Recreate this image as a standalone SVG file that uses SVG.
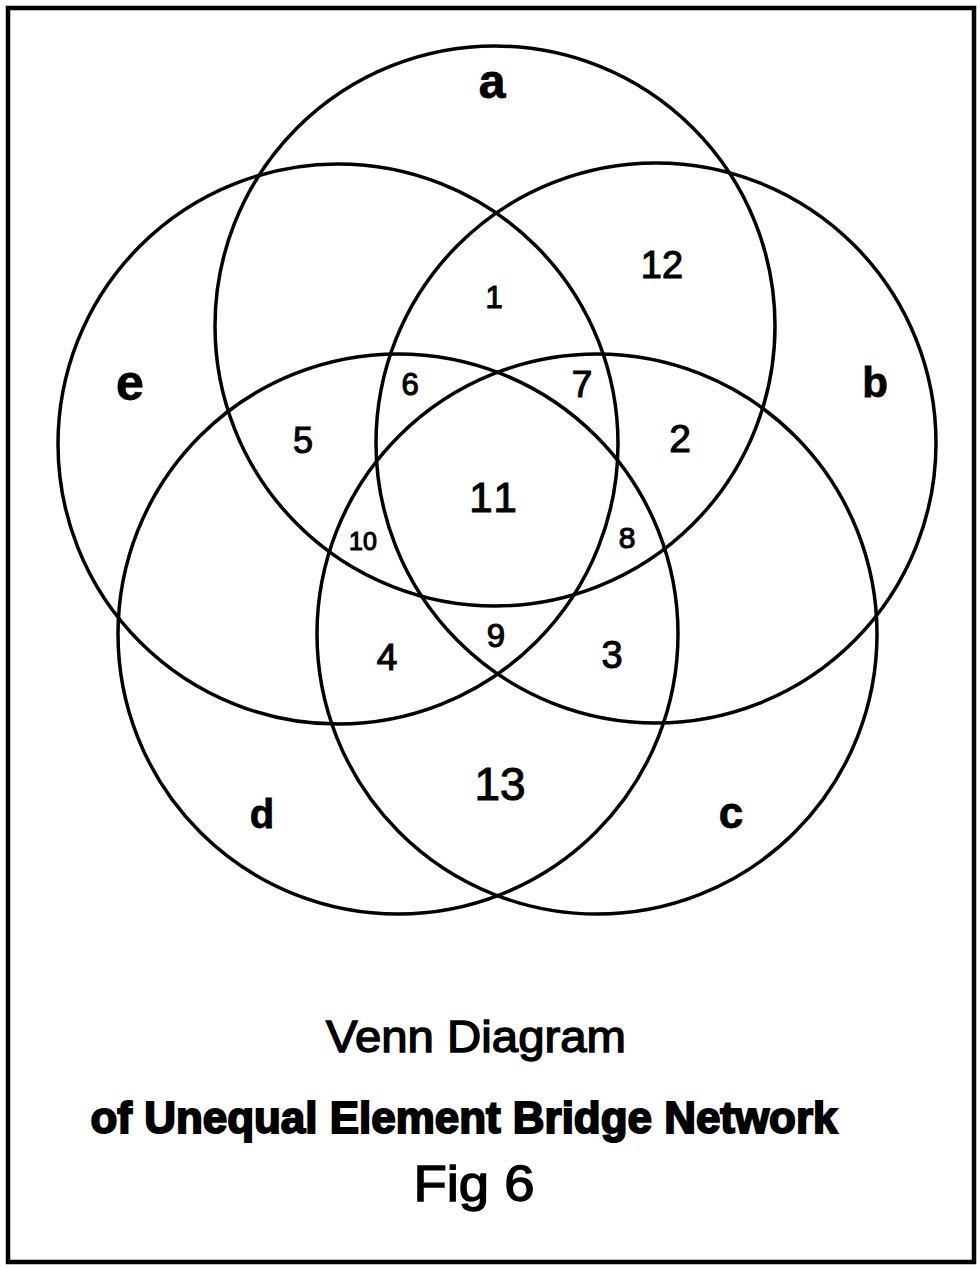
<svg xmlns="http://www.w3.org/2000/svg" width="980" height="1268" viewBox="0 0 980 1268">
  <style>
    .set { fill: none; stroke: #000; stroke-width: 3.5; }
    .lbl { font-family: "Liberation Sans", Arial, sans-serif; fill: #000; text-anchor: middle; stroke: #000; stroke-width: 1.1; }
    .setlbl { font-weight: bold; stroke-width: 0.8; }
    .title { font-family: "Liberation Sans", Arial, sans-serif; fill: #000; text-anchor: middle; stroke: #000; stroke-width: 1.4; }
    .heavy { font-weight: bold; stroke-width: 2; }
  </style>
  <rect x="0" y="0" width="980" height="1268" fill="#fff"/>
  <rect id="frame" x="8" y="8" width="966" height="1254" fill="none" stroke="#000" stroke-width="4.5"/>

  <g id="set-a">
    <circle class="set" cx="495" cy="326" r="280"/>
    <text class="lbl setlbl" x="492" y="98" font-size="48">a</text>
  </g>
  <g id="set-b">
    <circle class="set" cx="656" cy="443" r="280"/>
    <text class="lbl setlbl" x="875" y="397" font-size="42">b</text>
  </g>
  <g id="set-c">
    <circle class="set" cx="597" cy="634" r="280"/>
    <text class="lbl setlbl" x="731" y="828" font-size="44">c</text>
  </g>
  <g id="set-d">
    <circle class="set" cx="398" cy="634" r="280"/>
    <text class="lbl setlbl" x="262" y="828" font-size="40">d</text>
  </g>
  <g id="set-e">
    <circle class="set" cx="338" cy="444" r="280"/>
    <text class="lbl setlbl" x="130" y="400" font-size="50">e</text>
  </g>

  <g id="connectors"></g>

  <g id="regions">
    <text id="r1" class="lbl" x="494" y="308" font-size="31">1</text>
    <text id="r2" class="lbl" x="680" y="452" font-size="39">2</text>
    <text id="r3" class="lbl" x="612" y="668" font-size="38">3</text>
    <text id="r4" class="lbl" x="387" y="670" font-size="37">4</text>
    <text id="r5" class="lbl" x="303" y="453" font-size="36">5</text>
    <text id="r6" class="lbl" x="410" y="395" font-size="31">6</text>
    <text id="r7" class="lbl" x="582" y="397" font-size="37">7</text>
    <text id="r8" class="lbl" x="627" y="548" font-size="30">8</text>
    <text id="r9" class="lbl" x="496" y="647" font-size="33">9</text>
    <text id="r10" class="lbl" x="363" y="550" font-size="25">10</text>
    <text id="r11" class="lbl" x="495" y="512" font-size="42" letter-spacing="4">11</text>
    <text id="r12" class="lbl" x="662" y="278" font-size="38">12</text>
    <text id="r13" class="lbl" x="500" y="800" font-size="46">13</text>
  </g>

  <g id="caption">
    <text class="title" x="476" y="1052" font-size="45" textLength="300" lengthAdjust="spacingAndGlyphs">Venn Diagram</text>
    <text class="title heavy" x="464" y="1133" font-size="45" textLength="747" lengthAdjust="spacingAndGlyphs">of Unequal Element Bridge Network</text>
    <text class="title" x="474" y="1201" font-size="50" textLength="121" lengthAdjust="spacingAndGlyphs">Fig 6</text>
  </g>
</svg>
